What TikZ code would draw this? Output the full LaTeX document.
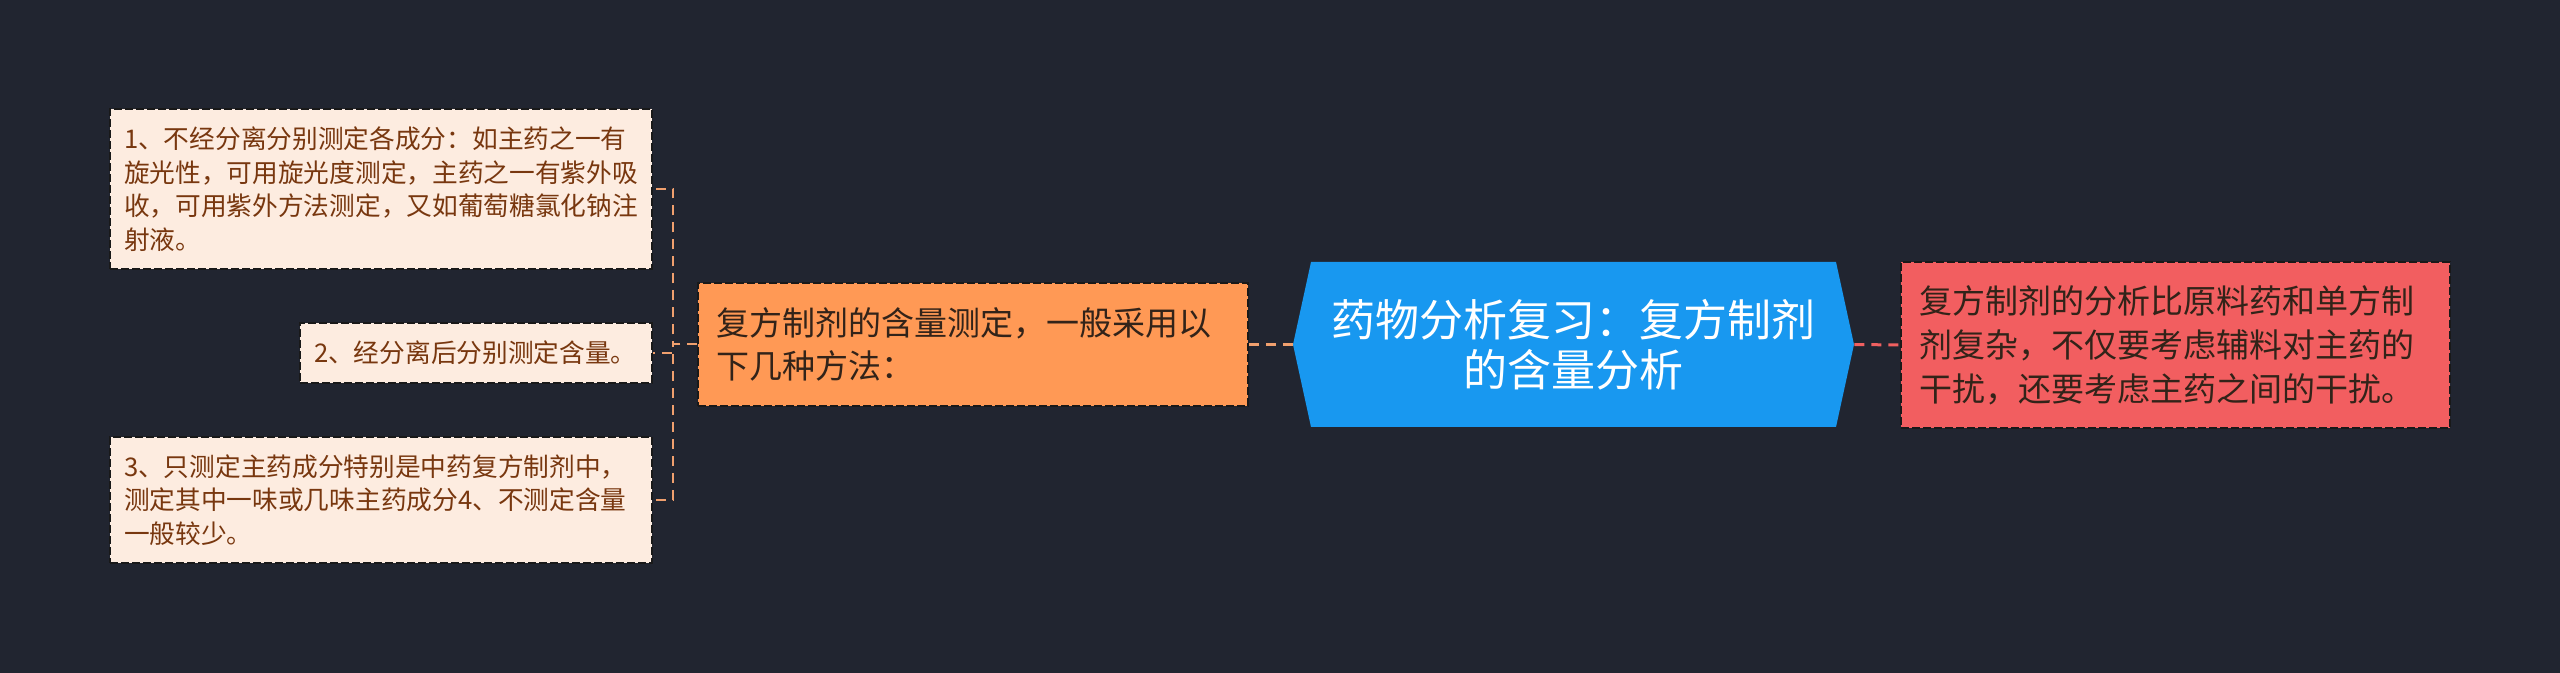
\documentclass[tikz,border=0pt]{standalone}
\usepackage{fontspec}
\setmainfont{Noto Sans CJK SC}
\definecolor{bgnavy}{RGB}{33,37,48}
\definecolor{peach}{RGB}{253,236,224}
\definecolor{brown}{RGB}{120,55,15}
\definecolor{mango}{RGB}{255,153,85}
\definecolor{skyblue}{RGB}{24,152,240}
\definecolor{coral}{RGB}{242,94,96}
\definecolor{inkdark}{RGB}{50,35,25}
\definecolor{linkorange}{RGB}{240,160,110}
\definecolor{linkred}{RGB}{240,96,96}

\tikzset{every loop/.style={}}
\tikzset{
  box/.style={draw=black!90,line width=0.8pt,dash pattern=on 4pt off 1.5pt,
    align=left,inner ysep=0pt,inner xsep=7pt},
  leaf/.style={box,fill=peach,text=brown,font=\fontsize{12.85pt}{16.75pt}\selectfont},
  link/.style={line width=1pt,dash pattern=on 5pt off 3.5pt},
}

\begin{document}
\begin{tikzpicture}[x=0.5pt,y=-0.5pt]
  \fill [bgnavy] (0,0) rectangle (2560,673);
  \useasboundingbox (0,0) rectangle (2560,673);
  % centre topic
  \fill [skyblue] (1311,262) -- (1836,262) -- (1854,344.5) -- (1836,427) -- (1311,427) -- (1293,344.5) -- cycle;
  \node (root) at (1573.5,344.5) [minimum width=280.5pt,minimum height=82.5pt,inner sep=0pt,
    align=center,text=white,font=\fontsize{22pt}{25pt}\selectfont]
    {药物分析复习：复方制剂\\的含量分析};
  \node (method) at (973,344.5) [box,fill=mango,text=inkdark,inner xsep=9pt,text width=257pt,
    minimum height=61.5pt,font=\fontsize{16.5pt}{21.5pt}\selectfont]
    {复方制剂的含量测定，一般采用以\\下几种方法：};
  \node (note) at (2175.5,345) [box,fill=coral,text=inkdark,inner xsep=9pt,text width=256.5pt,
    minimum height=83pt,font=\fontsize{16.5pt}{22pt}\selectfont]
    {复方制剂的分析比原料药和单方制\\剂复杂，不仅要考虑辅料对主药的\\干扰，还要考虑主药之间的干扰。};
  \node (way1) at (381,189) [leaf,text width=257pt,minimum height=80pt]
    {1、不经分离分别测定各成分：如主药之一有\\旋光性，可用旋光度测定，主药之一有紫外吸\\收，可用紫外方法测定，又如葡萄糖氯化钠注\\射液。};
  \node (way2) at (476,353) [leaf,text width=162pt,minimum height=30pt]
    {2、经分离后分别测定含量。};
  \node (way3) at (381,500) [leaf,text width=257pt,minimum height=63pt]
    {3、只测定主药成分特别是中药复方制剂中，\\测定其中一味或几味主药成分4、不测定含量\\一般较少。};
  \draw [link,linkorange,line width=1.5pt] (root.west) -- (method.east);
  \draw [link,linkred,line width=1.5pt] (root.east) -- (note.west);
  \draw [link,linkorange] (method.west) -- ++(-12pt,0) |- (way1.east);
  \draw [link,linkorange] (method.west) -- ++(-12pt,0) |- (way2.east);
  \draw [link,linkorange] (method.west) -- ++(-12pt,0) |- (way3.east);
\end{tikzpicture}
\end{document}
